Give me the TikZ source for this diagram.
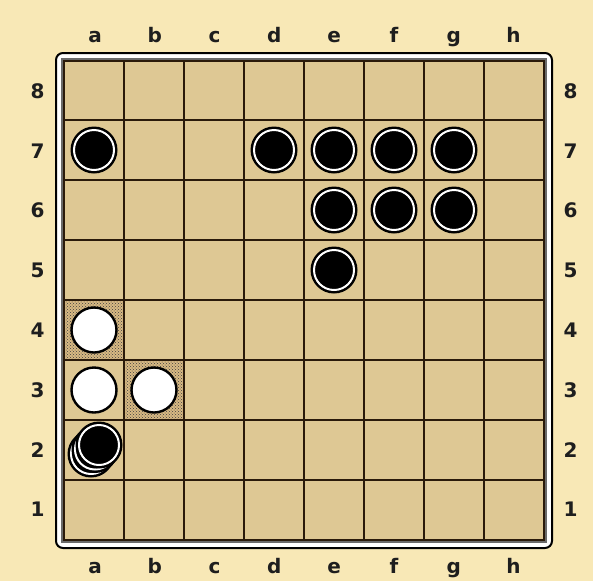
\documentclass[tikz,border=0pt]{standalone}
\usepackage{fontspec}
\setmainfont{DejaVu Sans}
\usetikzlibrary{patterns}
\definecolor{bgc}{HTML}{F8E8B6}
\definecolor{sqc}{HTML}{DEC894}
\definecolor{gridc}{HTML}{2A1A0A}
\definecolor{framegrey}{HTML}{6A6A6A}
\definecolor{labc}{HTML}{1E1E1E}
\tikzset{
  lab/.style={font=\fontsize{20}{20}\selectfont\bfseries, text=labc, inner sep=0pt},
  gridline/.style={gridc, line width=1.6pt},
}
\newcommand{\blackpiece}[2]{%
  \fill[black] (#1,#2) circle (23.5);
  \draw[white, line width=2pt] (#1,#2) circle (20);
}
\newcommand{\whitepiece}[2]{%
  \draw[black, fill=white, line width=2.4pt] (#1,#2) circle (22.5);
}
\begin{document}
\begin{tikzpicture}[x=1pt,y=-1pt]
\useasboundingbox (0,0) rectangle (593,581);
\fill[bgc] (0,0) rectangle (593,581);
% frame
\draw[black, line width=2pt, fill=white, rounded corners=7] (56,53) rectangle (552,548);
\draw[framegrey, line width=2pt] (62,59) rectangle (546,542);
% board
\fill[sqc] (64,61) rectangle (544,540);
% highlighted squares
\fill[sqc!80!brown] (64,300) rectangle (124,360);
\fill[pattern=crosshatch dots, pattern color=black!75] (64,300) rectangle (124,360);
\fill[sqc!80!brown] (124,360) rectangle (184,420);
\fill[pattern=crosshatch dots, pattern color=black!75] (124,360) rectangle (184,420);
% grid
\foreach \i in {1,...,7} {
  \draw[gridline] (64+60*\i,61) -- (64+60*\i,540);
  \draw[gridline] (64,60+60*\i) -- (544,60+60*\i);
}
\draw[gridc, line width=1.2pt] (64,61) rectangle (544,540);
% labels
\foreach \c [count=\k from 0] in {a,b,c,d,e,f,g,h} {
  \node[lab, anchor=base] (top\c) at (95+59.8*\k,42) {\c};
  \node[lab, anchor=base] (bot\c) at (95+59.8*\k,573) {\c};
}
\foreach \r [count=\k from 0] in {8,7,6,5,4,3,2,1} {
  \node[lab] (left\r) at (37.5,91+59.8*\k) {\r};
  \node[lab] (right\r) at (570.5,91+59.8*\k) {\r};
}
% black pieces
\blackpiece{94}{150}
\blackpiece{274}{150}
\blackpiece{334}{150}
\blackpiece{394}{150}
\blackpiece{454}{150}
\blackpiece{334}{210}
\blackpiece{394}{210}
\blackpiece{454}{210}
\blackpiece{334}{270}
% white pieces
\whitepiece{94}{330}
\whitepiece{94}{390}
\whitepiece{154}{390}
% stack at a2
\blackpiece{91}{454}
\blackpiece{95}{449.5}
\blackpiece{99}{445}
\end{tikzpicture}
\end{document}
